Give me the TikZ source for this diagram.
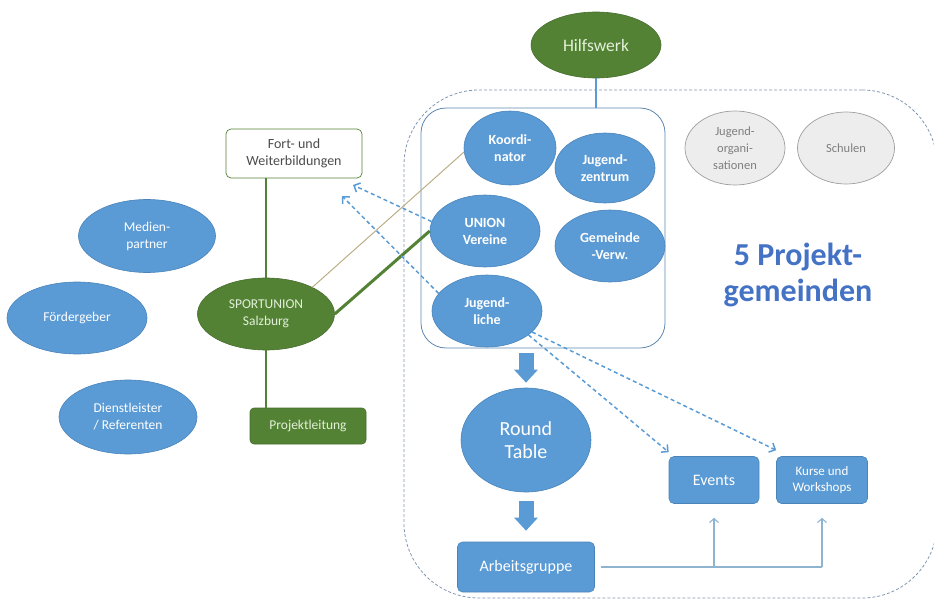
\documentclass[tikz,border=0pt]{standalone}
\usepackage{fontspec}
\setmainfont{Carlito}
\usetikzlibrary{shapes.geometric,arrows.meta}

\definecolor{ublau}{HTML}{5B9BD5}
\definecolor{ublaurand}{HTML}{4A84BA}
\definecolor{ugruen}{HTML}{548235}
\definecolor{hellgruen}{HTML}{E2F0D9}
\definecolor{grauf}{HTML}{EDEDED}
\definecolor{graurand}{HTML}{9E9E9E}
\definecolor{grautext}{HTML}{7F7F7F}
\definecolor{regionlinie}{HTML}{8497B0}
\definecolor{kernlinie}{HTML}{5E87B0}
\definecolor{feedlinie}{HTML}{8EB4CF}
\definecolor{titelblau}{HTML}{4472C4}
\definecolor{tanlinie}{HTML}{BBAE86}

\begin{document}
\begin{tikzpicture}[x=1pt,y=-1pt,
                        blob/.style={ellipse,fill=ublau,draw=ublaurand,line width=0.6pt,text=white,inner sep=0pt,align=center,font=\fontsize{13.5}{17}\selectfont},
                        kblob/.style={blob,font=\fontsize{14}{17}\selectfont\bfseries},
                        gruen/.style={ellipse,fill=ugruen,draw=ugruen!85!black,line width=0.6pt,text=hellgruen,inner sep=0pt,align=center,font=\fontsize{13.5}{17}\selectfont},
                        grau/.style={ellipse,fill=grauf,draw=graurand,line width=0.7pt,text=grautext,inner sep=0pt,align=center,font=\fontsize{12.5}{17}\selectfont},
                        bbox/.style={rectangle,rounded corners=5pt,fill=ublau,draw=ublaurand,line width=0.6pt,text=white,inner sep=0pt,align=center},
                        fortbox/.style={rectangle,rounded corners=5pt,fill=white,draw=ugruen,line width=0.7pt,text=black!70,inner sep=0pt,align=center,font=\fontsize{14}{17}\selectfont},
                        gruenbox/.style={rectangle,rounded corners=4pt,fill=ugruen,draw=ugruen!85!black,line width=0.6pt,text=hellgruen,inner sep=0pt,font=\fontsize{13.5}{16}\selectfont},
                        gline/.style={draw=ugruen,line width=2.6pt},
                        dpfeil/.style={draw=ublau,line width=1.5pt,dash pattern=on 4pt off 3pt,-{Straight Barb[length=5pt,width=10pt]}},
                        feed/.style={draw=feedlinie,line width=1.1pt},
                        fett/.style={draw=ublau,line width=15pt,-{Triangle[length=13pt,width=23pt]}}]

                                    \useasboundingbox (0,0) rectangle (934,602);

                                    \node[draw=regionlinie,line width=0.8pt,dash pattern=on 3pt off 2pt,rounded corners=75pt,minimum width=533pt,minimum height=508pt] (gem) at (670.5,344) {};
                                    \node[draw=kernlinie,line width=0.8pt,rounded corners=25pt,minimum width=244pt,minimum height=240pt] (kern) at (543,228) {};

                                    \node[gruen,minimum width=130pt,minimum height=66pt,font=\fontsize{17.5}{20}\selectfont] (hilf) at (596,45) {Hilfswerk};

                                    \node[kblob,minimum width=92pt,minimum height=74pt] (koord) at (510,148) {Koordi-\\nator};
                                    \node[kblob,minimum width=100pt,minimum height=70pt] (jz) at (605,168) {Jugend-\\zentrum};
                                    \node[kblob,minimum width=110pt,minimum height=72pt] (uv) at (485,231) {UNION\\Vereine};
                                    \node[kblob,minimum width=110pt,minimum height=72pt] (gv) at (610,246) {Gemeinde\\-Verw.};
                                    \node[kblob,minimum width=110pt,minimum height=72pt] (jl) at (487,311) {Jugend-\\liche};

                                    \node[grau,minimum width=100pt,minimum height=74pt] (jo) at (735,148) {Jugend-\\organi-\\sationen};
                                    \node[grau,minimum width=97pt,minimum height=72pt] (schul) at (846,148) {Schulen};

                                    \node[text=titelblau,align=center,font=\fontsize{32}{36}\selectfont\bfseries] (pg) at (798,275) {5 Projekt-\\gemeinden};

                                    \node[blob,minimum width=137pt,minimum height=73pt] (med) at (147,236) {Medien-\\partner};
                                    \node[blob,minimum width=140pt,minimum height=72pt] (foerd) at (77,318) {Fördergeber};
                                    \node[blob,minimum width=138pt,minimum height=74pt] (dienst) at (128,417) {Dienstleister\\/ Referenten};

                                    \node[gruen,minimum width=137pt,minimum height=72pt] (su) at (266,314) {SPORTUNION\\Salzburg};
                                    \node[fortbox,minimum width=136pt,minimum height=49pt] (fort) at (294,153.5) {Fort- und\\Weiterbildungen};
                                    \node[gruenbox,minimum width=116pt,minimum height=36pt] (pl) at (308,426) {Projektleitung};

                                    \node[blob,minimum width=130pt,minimum height=104pt,font=\fontsize{20}{23}\selectfont] (rt) at (526,440) {Round\\Table};
                                    \node[bbox,minimum width=137pt,minimum height=50pt,font=\fontsize{16}{19}\selectfont] (ag) at (526,567) {Arbeitsgruppe};
                                    \node[bbox,minimum width=90pt,minimum height=47pt,font=\fontsize{16}{19}\selectfont] (ev) at (714,480) {Events};
                                    \node[bbox,minimum width=91pt,minimum height=47pt,font=\fontsize{13}{16.5}\selectfont] (kw) at (822,480) {Kurse und\\Workshops};

                                    \coordinate (fb1) at (353,185);
                                    \coordinate (fb2) at (342,196);

                                    \draw[draw=ublau,line width=2pt] (hilf.south) -- (hilf.south |- kern.north);
                                    \draw[gline] (su.north) -- (su.north |- fort.south);
                                    \draw[gline] (su.south) -- (su.south |- pl.north);
                                    \draw[gline,line width=3pt] (su.east) -- (uv.west);
                                    \draw[draw=tanlinie,line width=1pt] (su.30) -- (koord.185);

                                    \draw[dpfeil] (uv.170) -- (fb1);
                                    \draw[dpfeil] (jl.160) -- (fb2);
                                    \draw[dpfeil] (jl.-30) -- ([yshift=4pt]ev.north west);
                                    \draw[dpfeil] (jl.-25) -- ([yshift=6pt]kw.north west);

                                    \draw[fett] ([yshift=-5pt]kern.south -| rt.north) -- ([yshift=5pt]rt.north);
                                    \draw[fett] ([yshift=-9pt]rt.south) -- ([yshift=11pt]ag.north);

                                    \draw[feed] ([xshift=6pt]ag.east) -- (ag.east -| kw.south);
                                    \draw[feed,-{Straight Barb[length=4pt,width=9pt]}] (ag.east -| ev.south) -- ([yshift=-14pt]ev.south);
                                    \draw[feed,-{Straight Barb[length=4pt,width=9pt]}] (ag.east -| kw.south) -- ([yshift=-14pt]kw.south);
                                \end{tikzpicture}
\end{document}
